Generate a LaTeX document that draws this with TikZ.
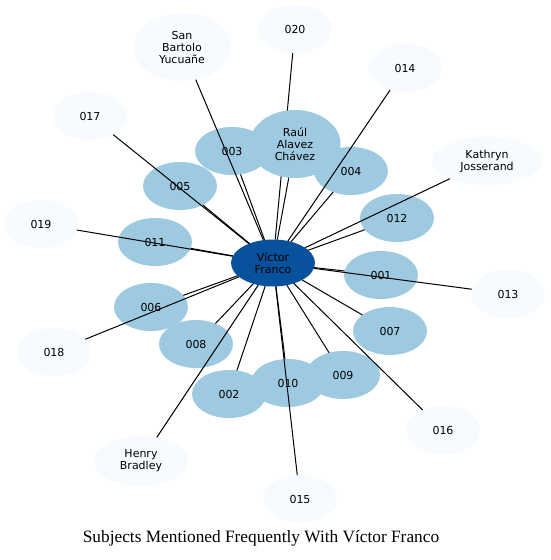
\documentclass[tikz,border=0pt]{standalone}
\usepackage{fontspec}
\setmainfont{Liberation Serif}
\newfontfamily\labelfont{DejaVu Sans}
\usetikzlibrary{shapes.geometric}
\definecolor{hub}{HTML}{08519C}
\definecolor{mid}{HTML}{9ECAE1}
\definecolor{pale}{HTML}{F7FBFF}
\pgfdeclarelayer{background}
\pgfsetlayers{background,main}

\begin{document}
\begin{tikzpicture}[x=1pt, y=-1pt,
    subj/.style = {ellipse, fill=#1, inner sep=0pt, outer sep=0pt,
                minimum width=74pt, minimum height=48pt, align=center,
                font=\labelfont\fontsize{11}{12}\selectfont},
    subj/.default = mid,  % most subjects are mid blue
    link/.style = {black, line width=1pt}
                    ]
        \useasboundingbox (0,0) rectangle (550,560);
        % pale subjects, outer ring
        \foreach \x/\y/\n in {295/29/020, 405/68/014, 90/116/017, 41/224/019, 508/294/013, 54/352/018, 443/430/016, 300/499/015}
            \node[subj=pale] at (\x,\y) (n\n) {\n};
        \node[subj=pale, minimum width=98pt, minimum height=68pt] at (182,47) (sby) {San\\Bartolo\\Yucuañe};
        \node[subj=pale, minimum width=110pt] at (487,161) (kj) {Kathryn\\Josserand};
        \node[subj=pale, minimum width=95pt, minimum height=50pt] at (141,461) (hb) {Henry\\Bradley};
        % mid blue subjects, inner ring
        \foreach \x/\y/\n in {232/151/003, 180/186/005, 351/171/004, 397/218/012, 155/242/011, 381/275/001, 151/307/006, 390/331/007, 196/344/008, 229/394/002, 343/375/009, 288/383/010}
            \node[subj] at (\x,\y) (n\n) {\n};
        \node[subj, minimum width=91pt, minimum height=68pt] at (295,144) (rac) {Raúl\\Alavez\\Chávez};
        \node[subj=hub, minimum width=84pt, minimum height=47pt] at (273,263) (vf) {Víctor\\Franco};
        % connectors
        \begin{pgfonlayer}{background}
            \draw [link] (vf) -- (n020);
        \end{pgfonlayer}
        \foreach \n in {001, 002, 003, 004, 005, 006, 007, 008, 009, 010, 011, 012, 013, 014, 015, 016, 017, 018, 019}
            \draw [link] (vf) -- (n\n);
        \draw [link] (vf) -- (rac);
        \draw [link] (vf) -- (sby);
        \draw [link] (vf) -- (kj);
        \draw [link] (vf) -- (hb);
        \node[font=\fontsize{17.3}{20}\selectfont] at (261,538) (title) {Subjects Mentioned Frequently With Víctor Franco};
    \end{tikzpicture}
\end{document}
